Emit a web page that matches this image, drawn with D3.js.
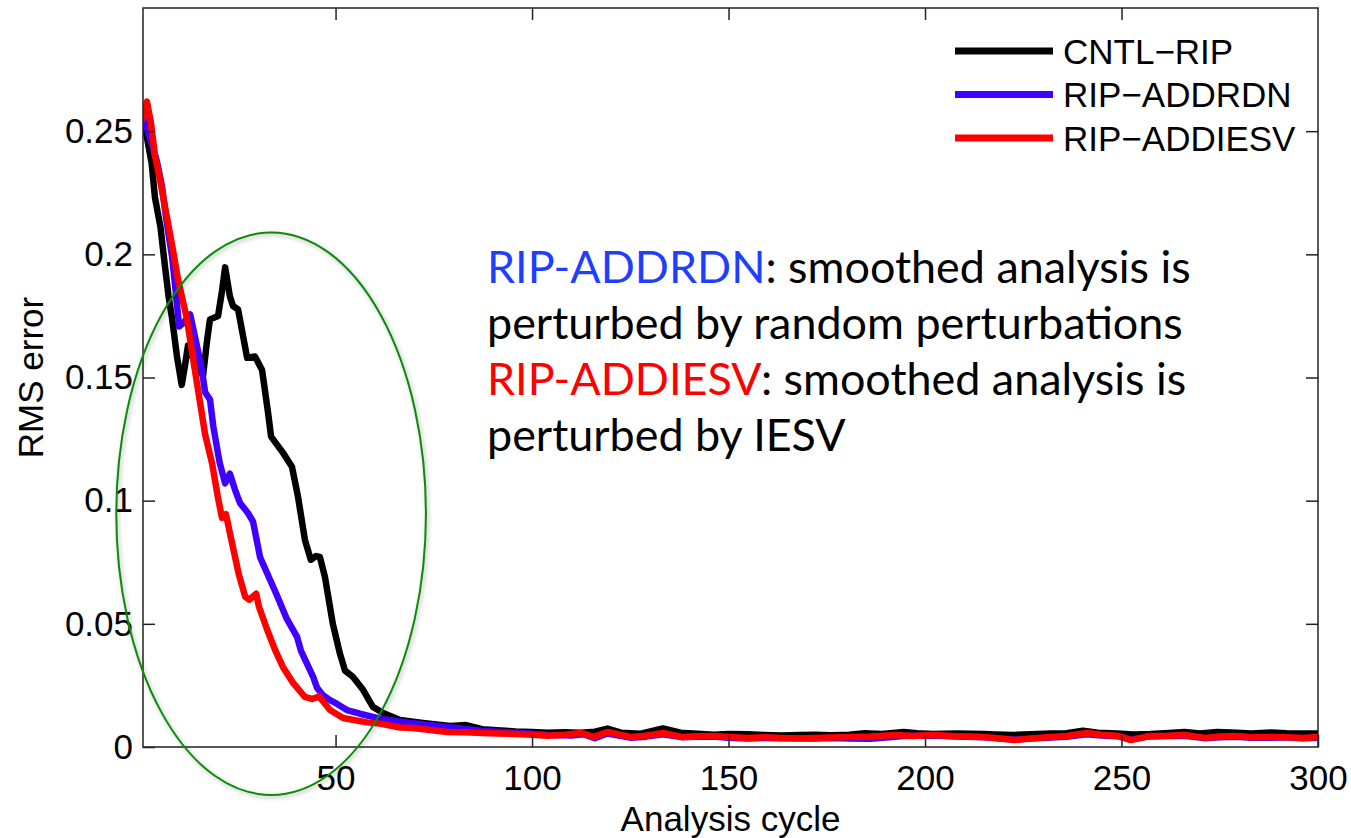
<!DOCTYPE html>
<html>
<head>
<meta charset="utf-8">
<script src="https://cdn.jsdelivr.net/npm/d3@7"></script>
<style>
  body { margin: 0; background: #fff; }
  svg { display: block; }
</style>
</head>
<body>
<div id="chart"></div>
<script>
// RMS error per analysis cycle as [cycle, value]
var cntlRip = [[1,0.256],[3.2,0.237],[4.05,0.223],[5.45,0.211],[6.6,0.195],[7.5,0.183],[8.4,0.174],
  [9.65,0.1585],[10.85,0.147],[11.7,0.155],[12.45,0.163],[13.7,0.158],[14.75,0.153],[16.3,0.151],
  [17.3,0.165],[18.05,0.1736],[20.1,0.175],[21.1,0.185],[21.9,0.1947],[23.1,0.183],[23.9,0.179],
  [25.2,0.1776],[27.5,0.158],[29.5,0.1585],[31.3,0.153],[32.8,0.136],[33.6,0.126],[36.6,0.1195],
  [38.9,0.1138],[40.4,0.102],[42.2,0.0841],[43.7,0.076],[45,0.0775],[46,0.0772],[47.3,0.069],
  [49.3,0.05],[51.1,0.038],[52.4,0.031],[54.4,0.0285],[57,0.0232],[59.5,0.0163],[62.1,0.0138],
  [66.4,0.011],[72.2,0.0098],[79.1,0.0085],[83.2,0.0089],[87.3,0.0072],[91,0.0068],[95.9,0.0063],
  [100,0.0061],[104,0.0058],[108,0.006],[112.4,0.0058],[116,0.0062],[119.2,0.0075],[122.6,0.0058],
  [127.7,0.0054],[133.3,0.0075],[137.8,0.0058],[142,0.0054],[146.3,0.005],[150,0.0053],[155,0.0052],
  [159,0.0049],[163.4,0.0047],[168,0.0049],[172,0.005],[176,0.0048],[180.7,0.005],[184.7,0.0056],
  [189,0.0053],[194.6,0.0061],[198,0.0056],[202,0.0053],[208,0.0055],[215,0.0053],[218,0.0051],
  [222.7,0.0049],[227,0.0052],[232,0.0055],[236,0.0056],[240.2,0.0066],[244,0.0058],[249,0.0055],
  [253,0.0051],[257.3,0.0053],[262,0.0057],[266,0.0061],[270,0.0055],[274.3,0.0061],[279.4,0.0058],
  [283,0.0055],[288,0.0059],[292,0.0056],[296.8,0.0055],[300,0.0055]];

var ripAddrdn = [[1,0.256],[3.2,0.245],[4.5,0.238],[5.8,0.228],[6.85,0.215],[8.4,0.199],[9,0.19],
  [10.2,0.1707],[11.2,0.172],[13,0.1756],[14.75,0.1626],[16,0.153],[16.8,0.144],[18.05,0.141],
  [18.9,0.13],[20.5,0.1155],[21.9,0.107],[23.1,0.111],[24.4,0.1045],[25.7,0.099],[27.7,0.095],
  [29,0.0915],[30.8,0.077],[33.3,0.068],[35.1,0.0615],[37.6,0.052],[40.2,0.0447],[41.2,0.039],
  [44.3,0.0285],[45.3,0.024],[46.8,0.021],[48.6,0.019],[50.4,0.0175],[52.9,0.015],[56.2,0.0135],
  [61.3,0.0115],[68.9,0.0098],[78.4,0.0081],[87,0.0066],[91,0.0062],[96,0.0058],[100,0.0054],
  [104,0.005],[110,0.0047],[113,0.0052],[116,0.0036],[119.2,0.0055],[125,0.0038],[129,0.0042],
  [133.3,0.0052],[138,0.004],[142,0.0042],[146,0.0043],[150,0.0038],[155,0.0035],[159,0.0037],
  [163.4,0.0036],[168,0.0036],[172,0.0035],[176,0.0037],[181,0.0034],[186,0.0033],[190,0.0039],
  [194.6,0.0045],[202,0.0047],[208,0.0043],[215,0.004],[222.7,0.003],[227,0.0034],[232,0.0039],
  [236,0.0042],[241,0.0052],[245,0.0047],[249,0.0044],[252.5,0.003],[257,0.0043],[262,0.0045],
  [266,0.0046],[271,0.0036],[275,0.004],[279,0.0042],[283,0.0038],[288,0.0038],[292,0.004],
  [296,0.0036],[300,0.0038]];

var ripAddiesv = [[1,0.255],[2,0.262],[3,0.2537],[4.05,0.24],[5.3,0.2305],[7.1,0.215],[8.6,0.202],
  [9.9,0.19],[12.2,0.1736],[13.7,0.158],[15,0.145],[16.8,0.127],[18.6,0.115],[20.1,0.101],
  [21.1,0.093],[22.1,0.0945],[23.9,0.081],[25.4,0.07],[27,0.061],[28,0.0598],[29.8,0.0622],
  [30.5,0.057],[32.6,0.0476],[34.6,0.0394],[36.6,0.0325],[39.2,0.026],[42.2,0.0203],[44,0.0195],
  [45.8,0.0205],[48.6,0.015],[51.9,0.0118],[58,0.01],[61.3,0.0095],[66.4,0.0079],[69.7,0.0077],
  [78.4,0.0061],[83,0.006],[87.3,0.0057],[91,0.0055],[95.8,0.0053],[100,0.005],[104,0.0046],
  [108,0.0049],[112.4,0.0057],[115.7,0.0041],[119.2,0.0061],[125,0.0041],[129,0.0046],
  [133.3,0.0057],[138,0.0041],[142,0.0044],[146.3,0.0045],[150,0.0041],[155,0.0037],[159,0.004],
  [163.4,0.0037],[168,0.0035],[172,0.0037],[176,0.0039],[180.7,0.0041],[186,0.0043],[192.8,0.0049],
  [197,0.0045],[202,0.0049],[208,0.0044],[215,0.0041],[218,0.0036],[222.7,0.0028],[227,0.0035],
  [232,0.0041],[236,0.0045],[241.3,0.0057],[245,0.005],[249,0.0045],[252.4,0.0028],[257.3,0.0045],
  [262,0.0046],[266,0.0049],[271.3,0.0037],[275,0.0043],[279,0.0045],[283,0.004],[287.8,0.0041],
  [292,0.004],[296.3,0.0037],[300,0.0041]];

var seriesNames = ["CNTL\u2212RIP", "RIP\u2212ADDRDN", "RIP\u2212ADDIESV"];
var seriesColors = ["#000000", "#4000ff", "#ff0000"];
var xTicks = [50, 100, 150, 200, 250, 300];
var yTicks = [0, 0.05, 0.1, 0.15, 0.2, 0.25];

// note text lines, each as [text, colour] pieces
var noteLines = [
  [["RIP-ADDRDN", "#1f3fff"], [": smoothed analysis is", "#000"]],
  [["perturbed by random perturbations", "#000"]],
  [["RIP-ADDIESV", "#ff0000"], [": smoothed analysis is", "#000"]],
  [["perturbed by IESV", "#000"]]
];

var width = 1351, height = 838;
var plotLeft = 143, plotRight = 1318, plotTop = 8, plotBottom = 747;
var tickFont = "'Liberation Sans', Arial, Helvetica, sans-serif";

var svg = d3.select("#chart").append("svg")
  .attr("width", width).attr("height", height);

var x = d3.scaleLinear().domain([1, 300]).range([plotLeft, plotRight]);
var y = d3.scaleLinear().domain([0, 0.3]).range([plotBottom, plotTop]);

var defs = svg.append("defs");
defs.append("clipPath").attr("id", "plotclip")
  .append("rect").attr("x", plotLeft).attr("y", plotTop)
  .attr("width", plotRight - plotLeft).attr("height", plotBottom - plotTop);
var f = defs.append("filter").attr("id", "shadow")
  .attr("x", "-10%").attr("y", "-10%").attr("width", "130%").attr("height", "130%");
f.append("feDropShadow").attr("dx", 1.5).attr("dy", 2).attr("stdDeviation", 2)
  .attr("flood-color", "#000").attr("flood-opacity", 0.3);

// curves
var line = d3.line().x(function(d){ return x(d[0]); }).y(function(d){ return y(d[1]); });
var allSeries = [cntlRip, ripAddrdn, ripAddiesv];
svg.append("g").attr("clip-path", "url(#plotclip)")
  .selectAll("path").data(allSeries).enter().append("path")
  .attr("d", line)
  .attr("fill", "none")
  .attr("stroke", function(d, i){ return seriesColors[i]; })
  .attr("stroke-width", 6.5)
  .attr("stroke-linejoin", "round")
  .attr("stroke-linecap", "round");

// axes: MATLAB style box with inward ticks on every side
function styleAxis(g) {
  g.select(".domain").remove();
  g.selectAll(".tick line").attr("stroke", "#222").attr("stroke-width", 1.5);
  g.selectAll(".tick text").attr("fill", "#000")
    .style("font-family", tickFont).style("font-size", "35px");
}

svg.append("g").attr("transform", "translate(0," + plotBottom + ")")
  .call(d3.axisBottom(x).tickValues(xTicks).tickFormat(d3.format("d"))
    .tickSizeInner(-12).tickSizeOuter(0).tickPadding(20))
  .call(styleAxis)
  .call(function(g){ g.selectAll(".tick text").attr("y", 18).attr("dy", "0.71em"); });

svg.append("g").attr("transform", "translate(0," + plotTop + ")")
  .call(d3.axisTop(x).tickValues(xTicks.slice(0, 5)).tickFormat("")
    .tickSizeInner(-12).tickSizeOuter(0))
  .call(styleAxis);

svg.append("g").attr("transform", "translate(" + plotLeft + ",0)")
  .call(d3.axisLeft(y).tickValues(yTicks).tickFormat(function(d){ return d === 0 ? "0" : String(d); })
    .tickSizeInner(-12).tickSizeOuter(0))
  .call(styleAxis)
  .call(function(g){ g.selectAll(".tick text").attr("x", -10); });

svg.append("g").attr("transform", "translate(" + plotRight + ",0)")
  .call(d3.axisRight(y).tickValues(yTicks.slice(1)).tickFormat("")
    .tickSizeInner(-12).tickSizeOuter(0))
  .call(styleAxis);

svg.append("rect")
  .attr("x", plotLeft).attr("y", plotTop)
  .attr("width", plotRight - plotLeft).attr("height", plotBottom - plotTop)
  .attr("fill", "none").attr("stroke", "#222").attr("stroke-width", 1.5);

// axis titles
svg.append("text")
  .attr("x", (plotLeft + plotRight) / 2).attr("y", 831)
  .attr("text-anchor", "middle")
  .style("font-family", tickFont).style("font-size", "35px")
  .text("Analysis cycle");

svg.append("text")
  .attr("transform", "translate(43," + (plotTop + plotBottom) / 2 + ") rotate(-90)")
  .attr("text-anchor", "middle")
  .style("font-family", tickFont).style("font-size", "35px")
  .text("RMS error");

// legend
var legend = svg.append("g");
seriesNames.forEach(function(name, i) {
  var ly = 51 + i * 43.5;
  legend.append("line")
    .attr("x1", 955).attr("x2", 1053).attr("y1", ly).attr("y2", ly)
    .attr("stroke", seriesColors[i]).attr("stroke-width", 7);
  legend.append("text")
    .attr("x", 1063).attr("y", ly).attr("dy", "0.36em")
    .style("font-family", tickFont).style("font-size", "35px")
    .text(name);
});

// green ellipse annotation, placed in data units
var ell = { cx: 33.6, cy: 0.0947, rx: 39.4, ry: 0.1142 };
svg.append("ellipse")
  .attr("cx", x(ell.cx)).attr("cy", y(ell.cy))
  .attr("rx", x(ell.cx + ell.rx) - x(ell.cx))
  .attr("ry", y(ell.cy - ell.ry) - y(ell.cy))
  .attr("fill", "none").attr("stroke", "#0a8a0a").attr("stroke-width", 2)
  .attr("filter", "url(#shadow)");

// note text
var noteFont = "Lato, 'Open Sans', sans-serif";
var noteG = svg.append("g");
var noteBase = [283, 339, 395, 451];
var noteTexts = noteLines.map(function(pieces, i) {
  var t = noteG.append("text").attr("x", 487).attr("y", noteBase[i])
    .style("font-family", noteFont).style("font-size", "38px");
  pieces.forEach(function(p) {
    t.append("tspan").attr("fill", p[1]).text(p[0]);
  });
  return t;
});
// scale the font so the longest line spans the same width as in the picture
var w = noteTexts[1].node().getComputedTextLength();
var fs = 38 * 696 / w;
noteTexts.forEach(function(t){ t.style("font-size", fs + "px"); });
</script>
</body>
</html>
